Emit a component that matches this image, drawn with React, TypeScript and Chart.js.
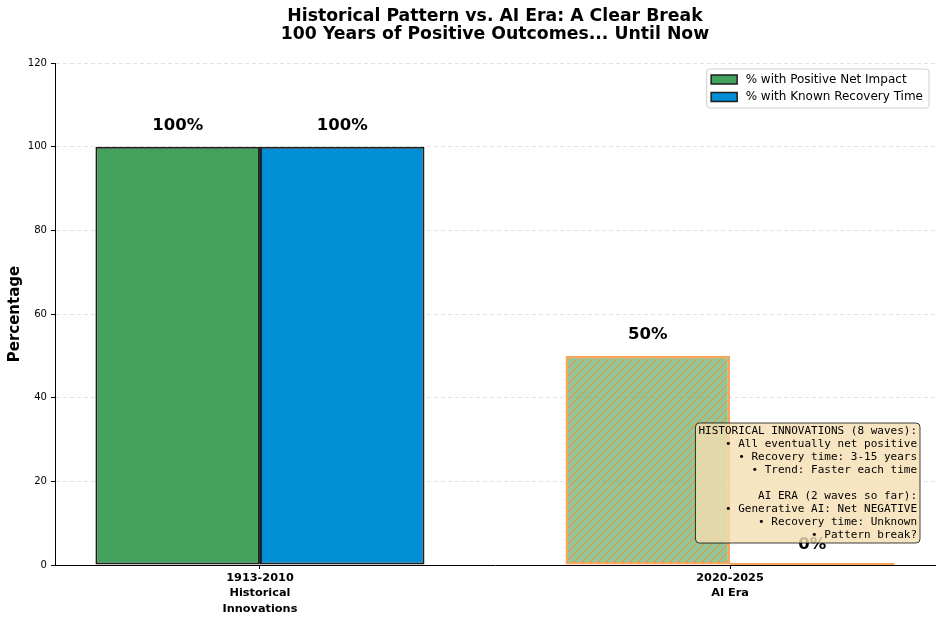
import React, { useEffect, useRef } from 'react';
import { Chart, registerables } from 'chart.js';

Chart.register(...registerables);

// ---- data ----
const CATEGORIES = ['1913-2010\nHistorical\nInnovations', '2020-2025\nAI Era'];
const CATEGORY_POS = [0, 1];
const POSITIVE_IMPACT = [100, 50];
const KNOWN_RECOVERY = [100, 0];
const SERIES_NAMES = ['% with Positive Net Impact', '% with Known Recovery Time'];
const Y_MIN = 0;
const Y_MAX = 120;
const Y_STEP = 20;
const TITLE_LINES = [
  'Historical Pattern vs. AI Era: A Clear Break',
  '100 Years of Positive Outcomes... Until Now',
];
const Y_LABEL = 'Percentage';
const NOTE_LINES = [
  'HISTORICAL INNOVATIONS (8 waves):',
  '• All eventually net positive',
  '• Recovery time: 3-15 years',
  '• Trend: Faster each time',
  '',
  'AI ERA (2 waves so far):',
  '• Generative AI: Net NEGATIVE',
  '• Recovery time: Unknown',
  '• Pattern break?',
];

// ---- styles ----
const GREEN = '#43a35e';
const BLUE = '#008fd5';
const DARK_EDGE = '#1e1e1e';
const ORANGE_EDGE = 'rgba(244,150,62,0.85)';
const FONT = '"DejaVu Sans", sans-serif';
const MONO = '"DejaVu Sans Mono", monospace';

function makeHatch(): CanvasPattern | string {
  const c = document.createElement('canvas');
  c.width = 8;
  c.height = 8;
  const g = c.getContext('2d');
  if (!g) return 'rgba(67,163,94,0.6)';
  g.fillStyle = 'rgba(67,163,94,0.6)';
  g.fillRect(0, 0, 8, 8);
  g.strokeStyle = 'rgba(240,145,50,0.95)';
  g.lineWidth = 1.2;
  g.beginPath();
  g.moveTo(-1, 9);
  g.lineTo(9, -1);
  g.moveTo(-1, 1);
  g.lineTo(1, -1);
  g.moveTo(7, 9);
  g.lineTo(9, 7);
  g.stroke();
  return g.createPattern(c, 'repeat') || 'rgba(67,163,94,0.6)';
}

function roundRect(ctx: CanvasRenderingContext2D, x: number, y: number, w: number, h: number, r: number) {
  ctx.beginPath();
  ctx.moveTo(x + r, y);
  ctx.lineTo(x + w - r, y);
  ctx.arcTo(x + w, y, x + w, y + r, r);
  ctx.lineTo(x + w, y + h - r);
  ctx.arcTo(x + w, y + h, x + w - r, y + h, r);
  ctx.lineTo(x + r, y + h);
  ctx.arcTo(x, y + h, x, y + h - r, r);
  ctx.lineTo(x, y + r);
  ctx.arcTo(x, y, x + r, y, r);
  ctx.closePath();
}

const customPlugin = {
  id: 'customDraw',
  beforeDraw(chart: any) {
    const ctx = chart.ctx;
    ctx.save();
    ctx.fillStyle = '#ffffff';
    ctx.fillRect(0, 0, chart.width, chart.height);
    ctx.restore();
  },
  afterDatasetsDraw(chart: any) {
    const ctx: CanvasRenderingContext2D = chart.ctx;
    const ca = chart.chartArea;
    const yScale = chart.scales.y;
    ctx.save();
    // zero-height bars: draw their edge line
    chart.data.datasets.forEach((ds: any, di: number) => {
      const meta = chart.getDatasetMeta(di);
      meta.data.forEach((el: any, i: number) => {
        const v = ds.data[i].y;
        if (v === 0) {
          const p = el.getProps(['x', 'base', 'width'], true);
          ctx.strokeStyle = ORANGE_EDGE;
          ctx.lineWidth = 2;
          ctx.beginPath();
          ctx.moveTo(p.x - p.width / 2, p.base - 1);
          ctx.lineTo(p.x + p.width / 2, p.base - 1);
          ctx.stroke();
        }
      });
    });
    // value labels
    const fs = 16.5;
    ctx.font = `bold ${fs}px ${FONT}`;
    ctx.fillStyle = '#000';
    ctx.textAlign = 'center';
    ctx.textBaseline = 'alphabetic';
    chart.data.datasets.forEach((ds: any, di: number) => {
      const meta = chart.getDatasetMeta(di);
      meta.data.forEach((el: any, i: number) => {
        const v = ds.data[i].y;
        const p = el.getProps(['x'], true);
        const yy = yScale.getPixelForValue(v + 3) - 0.236 * fs;
        ctx.fillText(`${v}%`, p.x, yy);
      });
    });
    // annotation box
    const nfs = 11;
    const lh = 13;
    ctx.font = `${nfs}px ${MONO}`;
    let maxW = 0;
    NOTE_LINES.forEach((l) => (maxW = Math.max(maxW, ctx.measureText(l).width)));
    const pad = 3;
    const boxR = ca.right - 15;
    const boxB = ca.bottom - 22;
    const boxH = (NOTE_LINES.length - 1) * lh + 16;
    const boxW = maxW + 2 * pad;
    const boxL = boxR - boxW;
    const boxT = boxB - boxH;
    roundRect(ctx, boxL, boxT, boxW, boxH, 4);
    ctx.fillStyle = 'rgba(245,222,179,0.8)';
    ctx.fill();
    ctx.strokeStyle = 'rgba(0,0,0,0.75)';
    ctx.lineWidth = 1;
    ctx.stroke();
    ctx.fillStyle = '#000';
    ctx.textAlign = 'right';
    ctx.textBaseline = 'middle';
    NOTE_LINES.forEach((l, i) => {
      ctx.fillText(l, boxR - pad, boxT + 8 + i * lh);
    });
    ctx.restore();
  },
  afterDraw(chart: any) {
    const ctx: CanvasRenderingContext2D = chart.ctx;
    const ca = chart.chartArea;
    ctx.save();
    // title
    ctx.fillStyle = '#000';
    ctx.textAlign = 'center';
    ctx.textBaseline = 'alphabetic';
    ctx.font = `bold 17.3px ${FONT}`;
    const cx = (ca.left + ca.right) / 2;
    ctx.fillText(TITLE_LINES[0], cx, 20.7);
    ctx.fillText(TITLE_LINES[1], cx, 39.3);
    // y label
    ctx.save();
    ctx.translate(15, (ca.top + ca.bottom) / 2);
    ctx.rotate(-Math.PI / 2);
    ctx.font = `bold 15px ${FONT}`;
    ctx.textBaseline = 'middle';
    ctx.fillText(Y_LABEL, 0, 0);
    ctx.restore();
    // legend
    const colors = [GREEN, BLUE];
    const lfs = 12;
    ctx.font = `${lfs}px ${FONT}`;
    let tw = 0;
    SERIES_NAMES.forEach((n) => (tw = Math.max(tw, ctx.measureText(n).width)));
    const lR = ca.right - 6;
    const lT = ca.top + 6;
    const lW = 4 + 26 + 9 + tw + 6;
    const lL = lR - lW;
    const lH = 39;
    roundRect(ctx, lL, lT, lW, lH, 3);
    ctx.fillStyle = 'rgba(255,255,255,0.8)';
    ctx.fill();
    ctx.strokeStyle = '#d0d0d0';
    ctx.lineWidth = 1;
    ctx.stroke();
    SERIES_NAMES.forEach((n, i) => {
      const cy = lT + 10.5 + i * 17.5;
      ctx.fillStyle = colors[i];
      ctx.fillRect(lL + 4.5, cy - 4.5, 26, 9);
      ctx.strokeStyle = DARK_EDGE;
      ctx.lineWidth = 1.5;
      ctx.strokeRect(lL + 4.5, cy - 4.5, 26, 9);
      ctx.fillStyle = '#000';
      ctx.textAlign = 'left';
      ctx.textBaseline = 'middle';
      ctx.fillText(n, lL + 4 + 26 + 9, cy);
    });
    ctx.restore();
  },
};

export default function App() {
  const ref = useRef<HTMLCanvasElement | null>(null);
  useEffect(() => {
    document.body.style.margin = '0';
    const canvas = ref.current;
    if (!canvas) return;
    const hatch = makeHatch();
    const chart = new Chart(canvas, {
      type: 'bar',
      data: {
        datasets: [
          {
            label: SERIES_NAMES[0],
            data: CATEGORY_POS.map((x, i) => ({ x, y: POSITIVE_IMPACT[i] })),
            backgroundColor: [GREEN, hatch as any],
            borderColor: [DARK_EDGE, ORANGE_EDGE],
            borderWidth: [2, 2.5],
            borderSkipped: false,
          },
          {
            label: SERIES_NAMES[1],
            data: CATEGORY_POS.map((x, i) => ({ x, y: KNOWN_RECOVERY[i] })),
            backgroundColor: [BLUE, 'rgba(0,143,213,0.6)'],
            borderColor: [DARK_EDGE, ORANGE_EDGE],
            borderWidth: [2, 2.5],
            borderSkipped: false,
          },
        ],
      } as any,
      options: {
        animation: false,
        responsive: true,
        maintainAspectRatio: false,
        layout: { padding: { left: 0, top: 63, right: 6, bottom: 0 } },
        datasets: { bar: { categoryPercentage: 0.7, barPercentage: 1 } },
        plugins: {
          legend: { display: false },
          tooltip: { enabled: false },
          title: { display: false },
        },
        scales: {
          x: {
            type: 'linear',
            min: -0.436,
            max: 1.436,
            offset: false,
            bounds: 'data',
            afterBuildTicks: (scale: any) => {
              scale.ticks = CATEGORY_POS.map((v) => ({ value: v }));
            },
            afterFit: (scale: any) => {
              scale.height = 57;
            },
            grid: {
              offset: false,
              drawOnChartArea: false,
              drawTicks: true,
              tickLength: 4,
              tickColor: '#000',
            },
            border: { display: true, color: '#000', width: 1 },
            ticks: {
              color: '#000',
              padding: 2,
              maxRotation: 0,
              autoSkip: false,
              font: { family: FONT, size: 11.3, weight: 'bold', lineHeight: 1.33 },
              callback: (value: any) => {
                const idx = CATEGORY_POS.indexOf(Number(value));
                return idx >= 0 ? CATEGORIES[idx].split('\n') : '';
              },
            },
          },
          y: {
            type: 'linear',
            min: Y_MIN,
            max: Y_MAX,
            afterFit: (scale: any) => {
              scale.width = 55;
            },
            grid: {
              color: (c: any) => (c.tick && c.tick.value === 0 ? 'rgba(0,0,0,0)' : '#e3e3e3'),
              drawTicks: true,
              tickLength: 4,
              tickColor: '#000',
              lineWidth: 1,
            },
            border: { display: true, color: '#000', width: 1, dash: [4, 3] },
            ticks: {
              stepSize: Y_STEP,
              color: '#000',
              padding: 4,
              font: { family: FONT, size: 10.1 },
            },
          },
        },
      } as any,
      plugins: [customPlugin],
    });
    return () => chart.destroy();
  }, []);
  return (
    <div style={{ position: 'fixed', left: 0, top: 0, width: 941, height: 622 }}>
      <canvas ref={ref} />
    </div>
  );
}
